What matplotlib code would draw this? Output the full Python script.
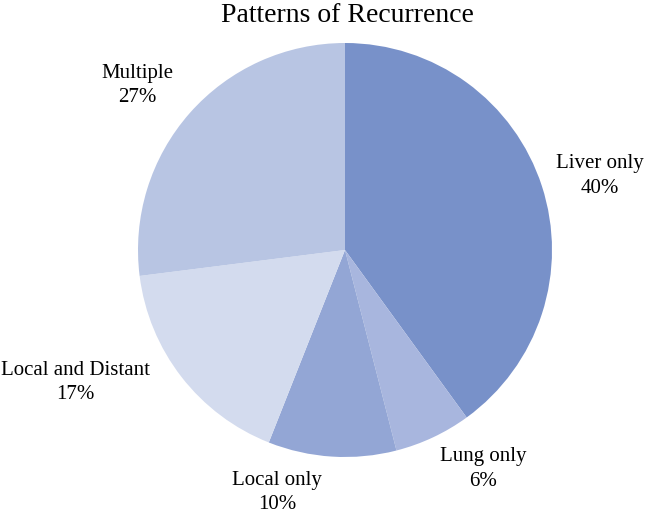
import numpy as np
import matplotlib.pyplot as plt

plt.rcParams['font.family'] = ['Liberation Serif', 'DejaVu Serif']

# Данные
categories = ['Liver only', 'Lung only', 'Local only', 'Local and Distant', 'Multiple']
shares = [40, 6, 10, 17, 27]
colors = ['#7891C9', '#A8B6DE', '#93A6D5', '#D3DBEE', '#B8C5E3']

# сдвиг подписей по углу (градусы) и их удаление от центра
label_shift = [1.8, -7, 12, 11.6, -3]
label_dist = [1.28, 1.25, 1.215, 1.45, 1.28]

fig = plt.figure(figsize=(6.45, 5.16), dpi=100)
ax = fig.add_axes([0, 0, 1, 1])

wedges, _ = ax.pie(shares, colors=colors, startangle=90, counterclock=False,
                   radius=1.0, wedgeprops=dict(linewidth=0))

for w, name, val, sh, d in zip(wedges, categories, shares, label_shift, label_dist):
    mid = (w.theta1 + w.theta2) / 2 - sh
    x = d * np.cos(np.deg2rad(mid))
    y = d * np.sin(np.deg2rad(mid))
    ax.text(x, y, f'{name}\n{val}%', ha='center', va='center',
            multialignment='center', fontsize=15, linespacing=1.37)

# масштаб: 207 px на единицу радиуса, центр в (345, 250)
ax.set_xlim(-345 / 207, 300 / 207)
ax.set_ylim(-266 / 207, 250 / 207)
ax.set_aspect('auto')
ax.axis('off')

fig.text(347 / 645, 1 - 15 / 516, 'Patterns of Recurrence', ha='center',
         va='center', fontsize=20)

fig.savefig('out.png', dpi=100, facecolor='white')
